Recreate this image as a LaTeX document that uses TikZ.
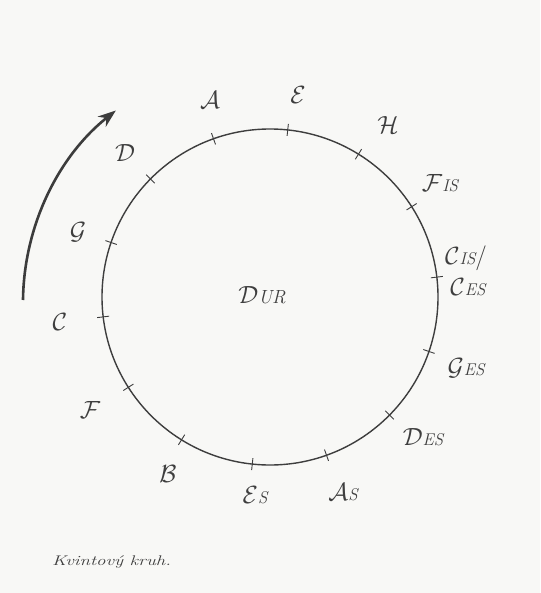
\documentclass[tikz,border=0pt]{standalone}
\usetikzlibrary{arrows.meta}
\definecolor{bgc}{RGB}{248,248,246}
\definecolor{ink}{RGB}{62,62,62}
\definecolor{arrowc}{RGB}{60,60,60}
\newcommand\lowpart[1]{{\fontsize{17}{17}\selectfont\itshape #1}}
\newcommand\capl[1]{$\mathcal{#1}$}
\tikzset{
  lab/.style={text=ink, font=\fontsize{25}{27}\selectfont, inner sep=0pt},
  tickmark/.style={draw=ink, line width=0.9pt},
  ringstyle/.style={draw=ink, line width=1.4pt, circle, minimum size=336pt, inner sep=0pt}
}
\begin{document}
\begin{tikzpicture}[x=1pt,y=-1pt]
\fill[bgc] (0,0) rectangle (540,593);
\useasboundingbox (0,0) rectangle (540,593);
\node[ringstyle] (ring) at (270,297) {};
\foreach \i in {0,...,13}{
  \pgfmathsetmacro\ang{186.8+25.714*\i}
  \coordinate (ti\i) at ({270+162*cos(\ang)},{297-162*sin(\ang)});
  \coordinate (to\i) at ({270+174*cos(\ang)},{297-174*sin(\ang)});
  \draw[tickmark] (ti\i) -- (to\i);
}
\node[lab] (A) at (210,100) {\capl{A}};
\node[lab] (E) at (298,95) {\capl{E}};
\node[lab] (H) at (388,125) {\capl{H}};
\node[lab] (Fis) at (440,183) {\capl{F}\lowpart{IS}};
\node[lab] (Cis) at (466,258) {\capl{C}\lowpart{IS}/};
\node[lab] (Ces) at (468,287) {\capl{C}\lowpart{ES}};
\node[lab] (Ges) at (466,368) {\capl{G}\lowpart{ES}};
\node[lab] (Des) at (423,437) {\capl{D}\lowpart{ES}};
\node[lab] (As) at (343,492) {\capl{A}\lowpart{S}};
\node[lab] (Es) at (255,495) {\capl{E}\lowpart{S}};
\node[lab] (B) at (168,474) {\capl{B}};
\node[lab] (F) at (90,410) {\capl{F}};
\node[lab] (C) at (60,322) {\capl{C}};
\node[lab] (G) at (78,232) {\capl{G}};
\node[lab] (D) at (125,153) {\capl{D}};
\node[lab, font=\fontsize{27}{29}\selectfont] (Dur) at (262,295) {\capl{D}{\fontsize{19}{19}\selectfont\itshape UR}};
\coordinate (arrS) at (23,300);
\draw[arrowc, line width=2.6pt, -{Stealth[length=18pt,width=13pt]}] (arrS) arc[start angle=-179.3, end angle=-128.5, radius=246];
\node[text=ink, font=\fontsize{14}{15}\selectfont\itshape, anchor=west, inner sep=0pt] (cap) at (52,562) {\scalebox{1.35}[1]{Kvintový kruh.}};
\end{tikzpicture}
\end{document}
